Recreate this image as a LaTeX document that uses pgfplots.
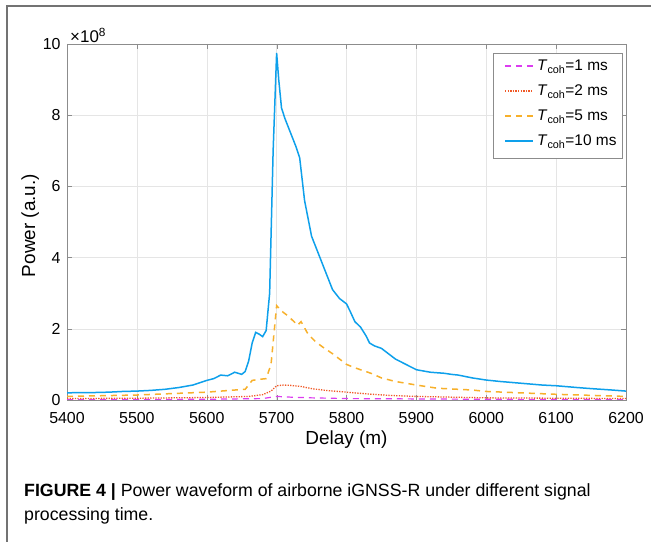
\documentclass[border=0pt]{standalone}
\usepackage{pgfplots}
\pgfplotsset{compat=1.18}
\usepackage{fontspec}
\setmainfont{Liberation Sans}
\definecolor{cblue}{RGB}{14,160,235}
\definecolor{corange}{RGB}{247,176,43}
\definecolor{cred}{RGB}{240,90,40}
\definecolor{cmag}{RGB}{220,60,240}
\begin{document}
\begin{tikzpicture}[x=1bp,y=1bp]
\useasboundingbox (0,0) rectangle (651,542);
\draw[black!55, line width=1.3bp] (7,0) -- (7,536) -- (651,536);
\begin{axis}[
  at={(67bp,142bp)}, anchor=south west,
  scale only axis, width=559bp, height=356bp,
  xmin=5400, xmax=6200, ymin=0, ymax=10,
  xtick distance=100, ytick={0,2,4,6,8,10},
  /pgf/number format/assume math mode=true,
  /pgf/number format/set thousands separator={},
  tick label style={font=\fontsize{16}{18}\selectfont},
  xticklabel style={yshift=-9bp},
  yticklabel style={xshift=-3bp},
  tick align=inside, major tick length=5bp,
  tick style={black!45},
  axis line style={black!45},
  grid=major, grid style={black!10, line width=0.5bp},
  xlabel={Delay (m)}, ylabel={Power (a.u.)},
  label style={font=\fontsize{19}{21}\selectfont},
  xlabel style={at={(axis description cs:0.5,-0.11)}, anchor=center},
  ylabel style={at={(axis description cs:-0.066,0.49)}, anchor=center},
]
\addplot[cmag, dash pattern=on 6bp off 5bp, line width=1.2bp] coordinates {
(5400,0.01) (5600,0.02) (5680,0.04) (5700,0.10) (5720,0.08) (5750,0.06) (5800,0.04) (5900,0.03) (6000,0.02) (6200,0.01)};
\addplot[cred, dash pattern=on 1.3bp off 1.3bp, line width=1.3bp] coordinates {
(5400,0.04) (5500,0.05) (5600,0.07) (5660,0.10) (5680,0.15) (5692,0.25) (5700,0.40) (5710,0.42) (5720,0.41) (5735,0.38) (5750,0.32) (5770,0.27) (5800,0.22) (5830,0.17) (5860,0.13) (5900,0.10) (5950,0.08) (6000,0.06) (6100,0.05) (6200,0.04)};
\addplot[corange, dash pattern=on 6bp off 5bp, line width=1.5bp] coordinates {
(5400,0.10) (5450,0.12) (5500,0.14) (5550,0.18) (5600,0.22) (5640,0.28) (5655,0.30) (5665,0.55) (5675,0.58) (5685,0.60) (5692,1.0) (5700,2.65) (5707,2.50) (5715,2.38) (5725,2.20) (5730,2.10) (5735,2.20) (5745,1.85) (5755,1.65) (5765,1.50) (5780,1.30) (5790,1.15) (5800,1.00) (5810,0.92) (5820,0.85) (5835,0.75) (5850,0.62) (5870,0.52) (5900,0.42) (5930,0.33) (5960,0.30) (5980,0.28) (6000,0.24) (6050,0.20) (6100,0.16) (6150,0.13) (6200,0.10)};
\addplot[cblue, solid, line width=1.5bp] coordinates {
(5400,0.20) (5420,0.21) (5440,0.21) (5460,0.22) (5480,0.24) (5500,0.25) (5520,0.27) (5540,0.30) (5560,0.35) (5580,0.42) (5600,0.55) (5610,0.60) (5620,0.70) (5630,0.68) (5640,0.78) (5650,0.72) (5655,0.80) (5660,1.10) (5665,1.60) (5670,1.90) (5675,1.85) (5680,1.78) (5685,1.95) (5690,3.00) (5695,7.00) (5700,9.75) (5703,9.00) (5707,8.20) (5712,7.90) (5720,7.50) (5728,7.10) (5733,6.80) (5740,5.60) (5750,4.60) (5760,4.10) (5770,3.60) (5780,3.10) (5790,2.85) (5800,2.70) (5805,2.50) (5812,2.20) (5820,2.05) (5828,1.80) (5833,1.60) (5840,1.52) (5850,1.45) (5860,1.30) (5870,1.15) (5880,1.05) (5890,0.95) (5900,0.85) (5920,0.78) (5940,0.75) (5950,0.72) (5960,0.70) (5980,0.62) (6000,0.56) (6020,0.52) (6050,0.47) (6080,0.42) (6100,0.40) (6130,0.35) (6150,0.32) (6180,0.28) (6200,0.25)};
\end{axis}
% legend
\draw[black!45, fill=white, line width=0.6bp] (493,384) rectangle (622,489);
\draw[cmag, dash pattern=on 6bp off 5bp, line width=1.4bp] (505,476) -- (533,476);
\draw[cred, dash pattern=on 1.3bp off 1.3bp, line width=1.4bp] (505,451) -- (533,451);
\draw[corange, dash pattern=on 6bp off 5bp, line width=1.5bp] (505,426) -- (533,426);
\draw[cblue, line width=1.5bp] (505,401) -- (533,401);
\begin{scope}[every node/.style={anchor=base west, inner sep=0pt, font=\fontsize{15.5}{18}\selectfont}]
\node at (537,471) {\textit{T}\textsubscript{coh}=1 ms};
\node at (537,446) {\textit{T}\textsubscript{coh}=2 ms};
\node at (537,421) {\textit{T}\textsubscript{coh}=5 ms};
\node at (537,396) {\textit{T}\textsubscript{coh}=10 ms};
\end{scope}
\node[anchor=south west, inner sep=0pt, font=\fontsize{17}{19}\selectfont] at (70,499) {×10\textsuperscript{8}};
\node[anchor=base west, inner sep=0pt, font=\fontsize{17.8}{19}\selectfont] at (24,45) {\textbf{FIGURE 4 |} Power waveform of airborne iGNSS-R under different signal};
\node[anchor=base west, inner sep=0pt, font=\fontsize{17.8}{19}\selectfont] at (24,21) {processing time.};
\end{tikzpicture}
\end{document}
